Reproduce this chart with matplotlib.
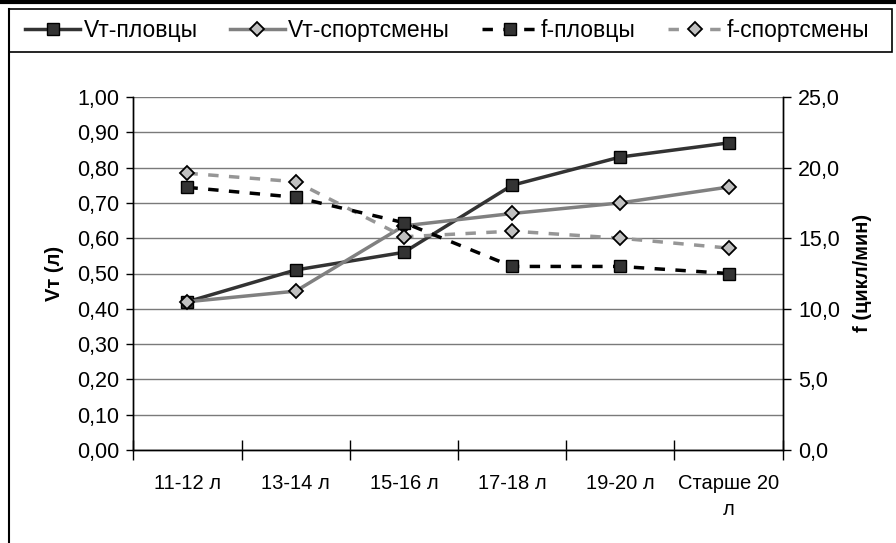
import matplotlib
matplotlib.use('Agg')
import matplotlib.pyplot as plt
from matplotlib.lines import Line2D
from matplotlib.patches import Rectangle
from matplotlib.ticker import FuncFormatter, MultipleLocator

plt.rcParams['font.family'] = ['Liberation Sans', 'DejaVu Sans']

# data
ages = ['11-12 л', '13-14 л', '15-16 л', '17-18 л', '19-20 л', 'Старше 20\nл']
vt_swim = [0.42, 0.51, 0.56, 0.75, 0.83, 0.87]
vt_sport = [0.42, 0.45, 0.635, 0.67, 0.70, 0.745]
f_swim = [18.6, 17.9, 16.1, 13.0, 13.0, 12.5]
f_sport = [19.6, 19.0, 15.1, 15.5, 15.0, 14.3]

W, H = 896, 543
fig = plt.figure(figsize=(W / 100, H / 100), dpi=100)
ax = fig.add_axes([133.3 / W, 1 - 450 / H, (782.7 - 133.3) / W, (450 - 97) / H])
ax2 = ax.twinx()

x = list(range(len(ages)))
fs = 14.5

l1, = ax.plot(x, vt_swim, color='#333333', lw=2.5, marker='s', ms=9,
              mfc='#333333', mec='black', mew=1, zorder=3)
l2, = ax.plot(x, vt_sport, color='#808080', lw=2.5, marker='D', ms=7.5,
              mfc='#c0c0c0', mec='black', mew=1.3, zorder=3)
l3, = ax2.plot(x, f_swim, color='black', lw=2.5, ls=(0, (3, 3)), marker='s', ms=9,
               mfc='#333333', mec='black', mew=1, zorder=4)
l4, = ax2.plot(x, f_sport, color='#969696', lw=2.5, ls=(0, (3, 3)), marker='D', ms=7.5,
               mfc='#c0c0c0', mec='black', mew=1.3, zorder=3)

ax.set_xlim(-0.5, 5.5)
ax.set_ylim(0, 1.0)
ax2.set_ylim(0, 25)

ax.yaxis.set_major_locator(MultipleLocator(0.1))
ax.yaxis.set_major_formatter(FuncFormatter(lambda v, p: f'{v:.2f}'.replace('.', ',')))
ax2.yaxis.set_major_locator(MultipleLocator(5))
ax2.yaxis.set_major_formatter(FuncFormatter(lambda v, p: f'{v:.1f}'.replace('.', ',')))

ax.grid(axis='y', color='#7a7a7a', lw=1)
ax.set_axisbelow(True)

ax.set_xticks(x)
ax.set_xticklabels(ages, fontsize=fs, linespacing=1.5)
ax.set_xticks([i - 0.5 for i in range(len(ages) + 1)], minor=True)
ax.tick_params(axis='x', which='major', length=0, pad=17)
ax.tick_params(axis='x', which='minor', direction='inout', length=14, width=1, color='black')
ax.tick_params(axis='y', which='major', direction='out', length=5, width=1, pad=5, labelsize=15.5)
ax2.tick_params(axis='y', which='major', direction='out', length=6, width=1, pad=5, labelsize=15.5)

for a in (ax, ax2):
    a.spines['top'].set_visible(False)
    for s in ('left', 'right', 'bottom'):
        a.spines[s].set_color('black')
        a.spines[s].set_linewidth(1)

fig.text(55 / W, 1 - 273 / H, 'Vт (л)', rotation=90, ha='center', va='center',
         fontsize=fs, fontweight='bold')
fig.text(862 / W, 1 - 273 / H, 'f (цикл/мин)', rotation=90, ha='center', va='center',
         fontsize=fs, fontweight='bold')

# chart frame and legend box
fig.add_artist(Line2D([0, 1], [1 - 1.5 / H, 1 - 1.5 / H], color='black', lw=3,
                      transform=fig.transFigure))
fig.add_artist(Line2D([9 / W, 9 / W], [0, 1 - 9 / H], color='black', lw=1.5,
                      transform=fig.transFigure))
fig.add_artist(Rectangle((9 / W, 1 - 52 / H), (892 - 9) / W, (52 - 9) / H,
                         transform=fig.transFigure, fill=False, ec='black', lw=1.2))

leg = fig.legend([l1, l2, l3, l4], ['Vт-пловцы', 'Vт-спортсмены', 'f-пловцы', 'f-спортсмены'],
                 loc='center', bbox_to_anchor=(447 / W, 1 - 31 / H), ncol=4, frameon=False,
                 fontsize=16.5, handlelength=2.4, handletextpad=0.15, columnspacing=1.4,
                 borderaxespad=0)

fig.savefig('out.png', dpi=100)
